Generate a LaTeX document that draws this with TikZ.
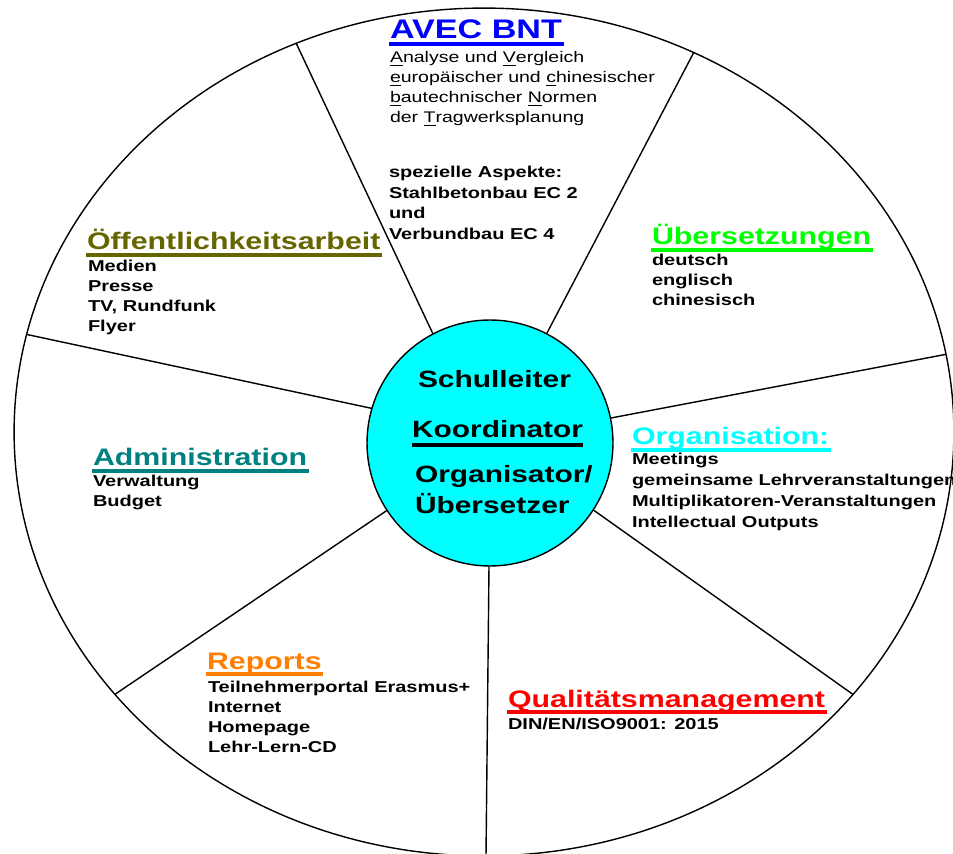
\documentclass[tikz,border=0pt]{standalone}
\usepackage{fontspec}
\setmainfont{Liberation Sans}[FakeStretch=1.27]
\usetikzlibrary{calc}
\definecolor{cblue}{RGB}{0,0,255}
\definecolor{cgreen}{RGB}{0,255,0}
\definecolor{ccyan}{RGB}{0,255,255}
\definecolor{colive}{RGB}{102,102,0}
\definecolor{cteal}{RGB}{0,128,128}
\definecolor{corange}{RGB}{255,128,0}
\definecolor{cred}{RGB}{255,0,0}
\definecolor{hubfill}{RGB}{0,255,255}
\begin{document}
\begin{tikzpicture}[x=0.02cm,y=-0.02cm,
  body/.style={font=\fontsize{8.96}{10}\selectfont\bfseries, anchor=base west, inner sep=0pt, outer sep=0pt},
  avecbody/.style={font=\fontsize{8.75}{10}\selectfont, anchor=base west, inner sep=0pt, outer sep=0pt},
  ttl/.style={font=\fontsize{13.6}{15}\selectfont\bfseries, anchor=base west, inner sep=0pt, outer sep=0pt},
  bigttl/.style={font=\fontsize{15.3}{17}\selectfont\bfseries, anchor=base west, inner sep=0pt, outer sep=0pt},
  hubtext/.style={font=\fontsize{13.4}{15}\selectfont\bfseries, anchor=base west, inner sep=0pt, outer sep=0pt},
  uline/.style={line width=2.3pt},
  wheel/.style={line width=0.8pt, black}]
\useasboundingbox (0,0) rectangle (953,854);

% outer ring and spokes
\begin{scope}
  \clip (484,432) ellipse [x radius=9.4cm, y radius=8.48cm];
  \foreach \ix/\iy/\ox/\oy [count=\k] in {433/334/297/45, 547/333/694/52, 611/418/953/353, 592/509/858/698, 489/566/486/856, 392/507/114/695, 370/408/20/333}{
    \coordinate (in\k) at (\ix,\iy);
    \coordinate (out\k) at (\ox,\oy);
    \draw[wheel] ($(in\k)!-0.04!(out\k)$) -- ($(in\k)!1.2!(out\k)$);
  }
\end{scope}
\draw[wheel] (484,432) ellipse [x radius=9.4cm, y radius=8.48cm];

% hub
\node[circle, draw, wheel, fill=hubfill, minimum size=4.92cm, inner sep=0pt, anchor=center] (hub) at (490,443) {};
\node[hubtext] (h1) at (418,388) {Schulleiter};
\node[hubtext] (h2) at (412,438) {Koordinator};
\draw[line width=1.8pt] ([yshift=-4pt]h2.base west) -- ([yshift=-4pt]h2.base east);
\node[hubtext] (h3) at (415,482) {Organisator/};
\node[hubtext] (h4) at (415,513) {Übersetzer};

% AVEC BNT
\node[bigttl, cblue] (avec) at (390,39) {AVEC BNT};
\draw[uline, cblue] ([yshift=-3.1pt,xshift=-0.5pt]avec.base west) -- ([yshift=-3.1pt,xshift=1pt]avec.base east);
\foreach \t [count=\i from 0] in {\underline{A}nalyse und \underline{V}ergleich, \underline{e}uropäischer und \underline{c}hinesischer, \underline{b}autechnischer \underline{N}ormen, der \underline{T}ragwerksplanung}
  \node[avecbody] (av\i) at (390,63+20*\i) {\t};
\foreach \t [count=\i from 0] in {spezielle Aspekte:, Stahlbetonbau EC 2, und, Verbundbau EC 4}
  \node[body] (sp\i) at (389,178+20.4*\i) {\t};

% Uebersetzungen
\node[ttl, cgreen] (ue) at (652,245) {Übersetzungen};
\draw[uline, cgreen] ([yshift=-2.9pt,xshift=-0.5pt]ue.base west) -- ([yshift=-2.9pt,xshift=1pt]ue.base east);
\foreach \t [count=\i from 0] in {deutsch, englisch, chinesisch}
  \node[body] (ueb\i) at (652,266+20*\i) {\t};

% Organisation
\node[ttl, ccyan] (org) at (632,445) {Organisation:};
\draw[uline, ccyan] ([yshift=-2.9pt,xshift=-0.5pt]org.base west) -- ([yshift=-2.9pt,xshift=1pt]org.base east);
\foreach \t [count=\i from 0] in {Meetings, gemeinsame Lehrveranstaltungen, Multiplikatoren-Veranstaltungen, Intellectual Outputs}
  \node[body] (orgb\i) at (632,465+20.8*\i) {\t};

% Oeffentlichkeitsarbeit
\node[ttl, colive] (oe) at (87,250) {Öffentlichkeitsarbeit};
\draw[uline, colive] ([yshift=-2.9pt,xshift=-0.5pt]oe.base west) -- ([yshift=-2.9pt,xshift=1pt]oe.base east);
\foreach \t [count=\i from 0] in {Medien, Presse, {TV, Rundfunk}, Flyer}
  \node[body] (oeb\i) at (88,272+20*\i) {\t};

% Administration
\node[ttl, cteal] (adm) at (93,466) {Administration};
\draw[uline, cteal] ([yshift=-2.9pt,xshift=-0.5pt]adm.base west) -- ([yshift=-2.9pt,xshift=1pt]adm.base east);
\foreach \t [count=\i from 0] in {Verwaltung, Budget}
  \node[body] (admb\i) at (93,486+20*\i) {\t};

% Reports
\node[ttl, corange] (rep) at (207,669) {Reports};
\draw[uline, corange] ([yshift=-2.9pt,xshift=-0.5pt]rep.base west) -- ([yshift=-2.9pt,xshift=1pt]rep.base east);
\foreach \t [count=\i from 0] in {Teilnehmerportal Erasmus+, Internet, Homepage, Lehr-Lern-CD}
  \node[body] (repb\i) at (208,692+20*\i) {\t};

% Qualitaetsmanagement
\node[ttl, cred] (qm) at (508,707) {Qualitätsmanagement};
\draw[uline, cred] ([yshift=-2.9pt,xshift=-0.5pt]qm.base west) -- ([yshift=-2.9pt,xshift=1pt]qm.base east);
\node[body] (qmb) at (508,729) {DIN/EN/ISO9001: 2015};
\end{tikzpicture}
\end{document}
